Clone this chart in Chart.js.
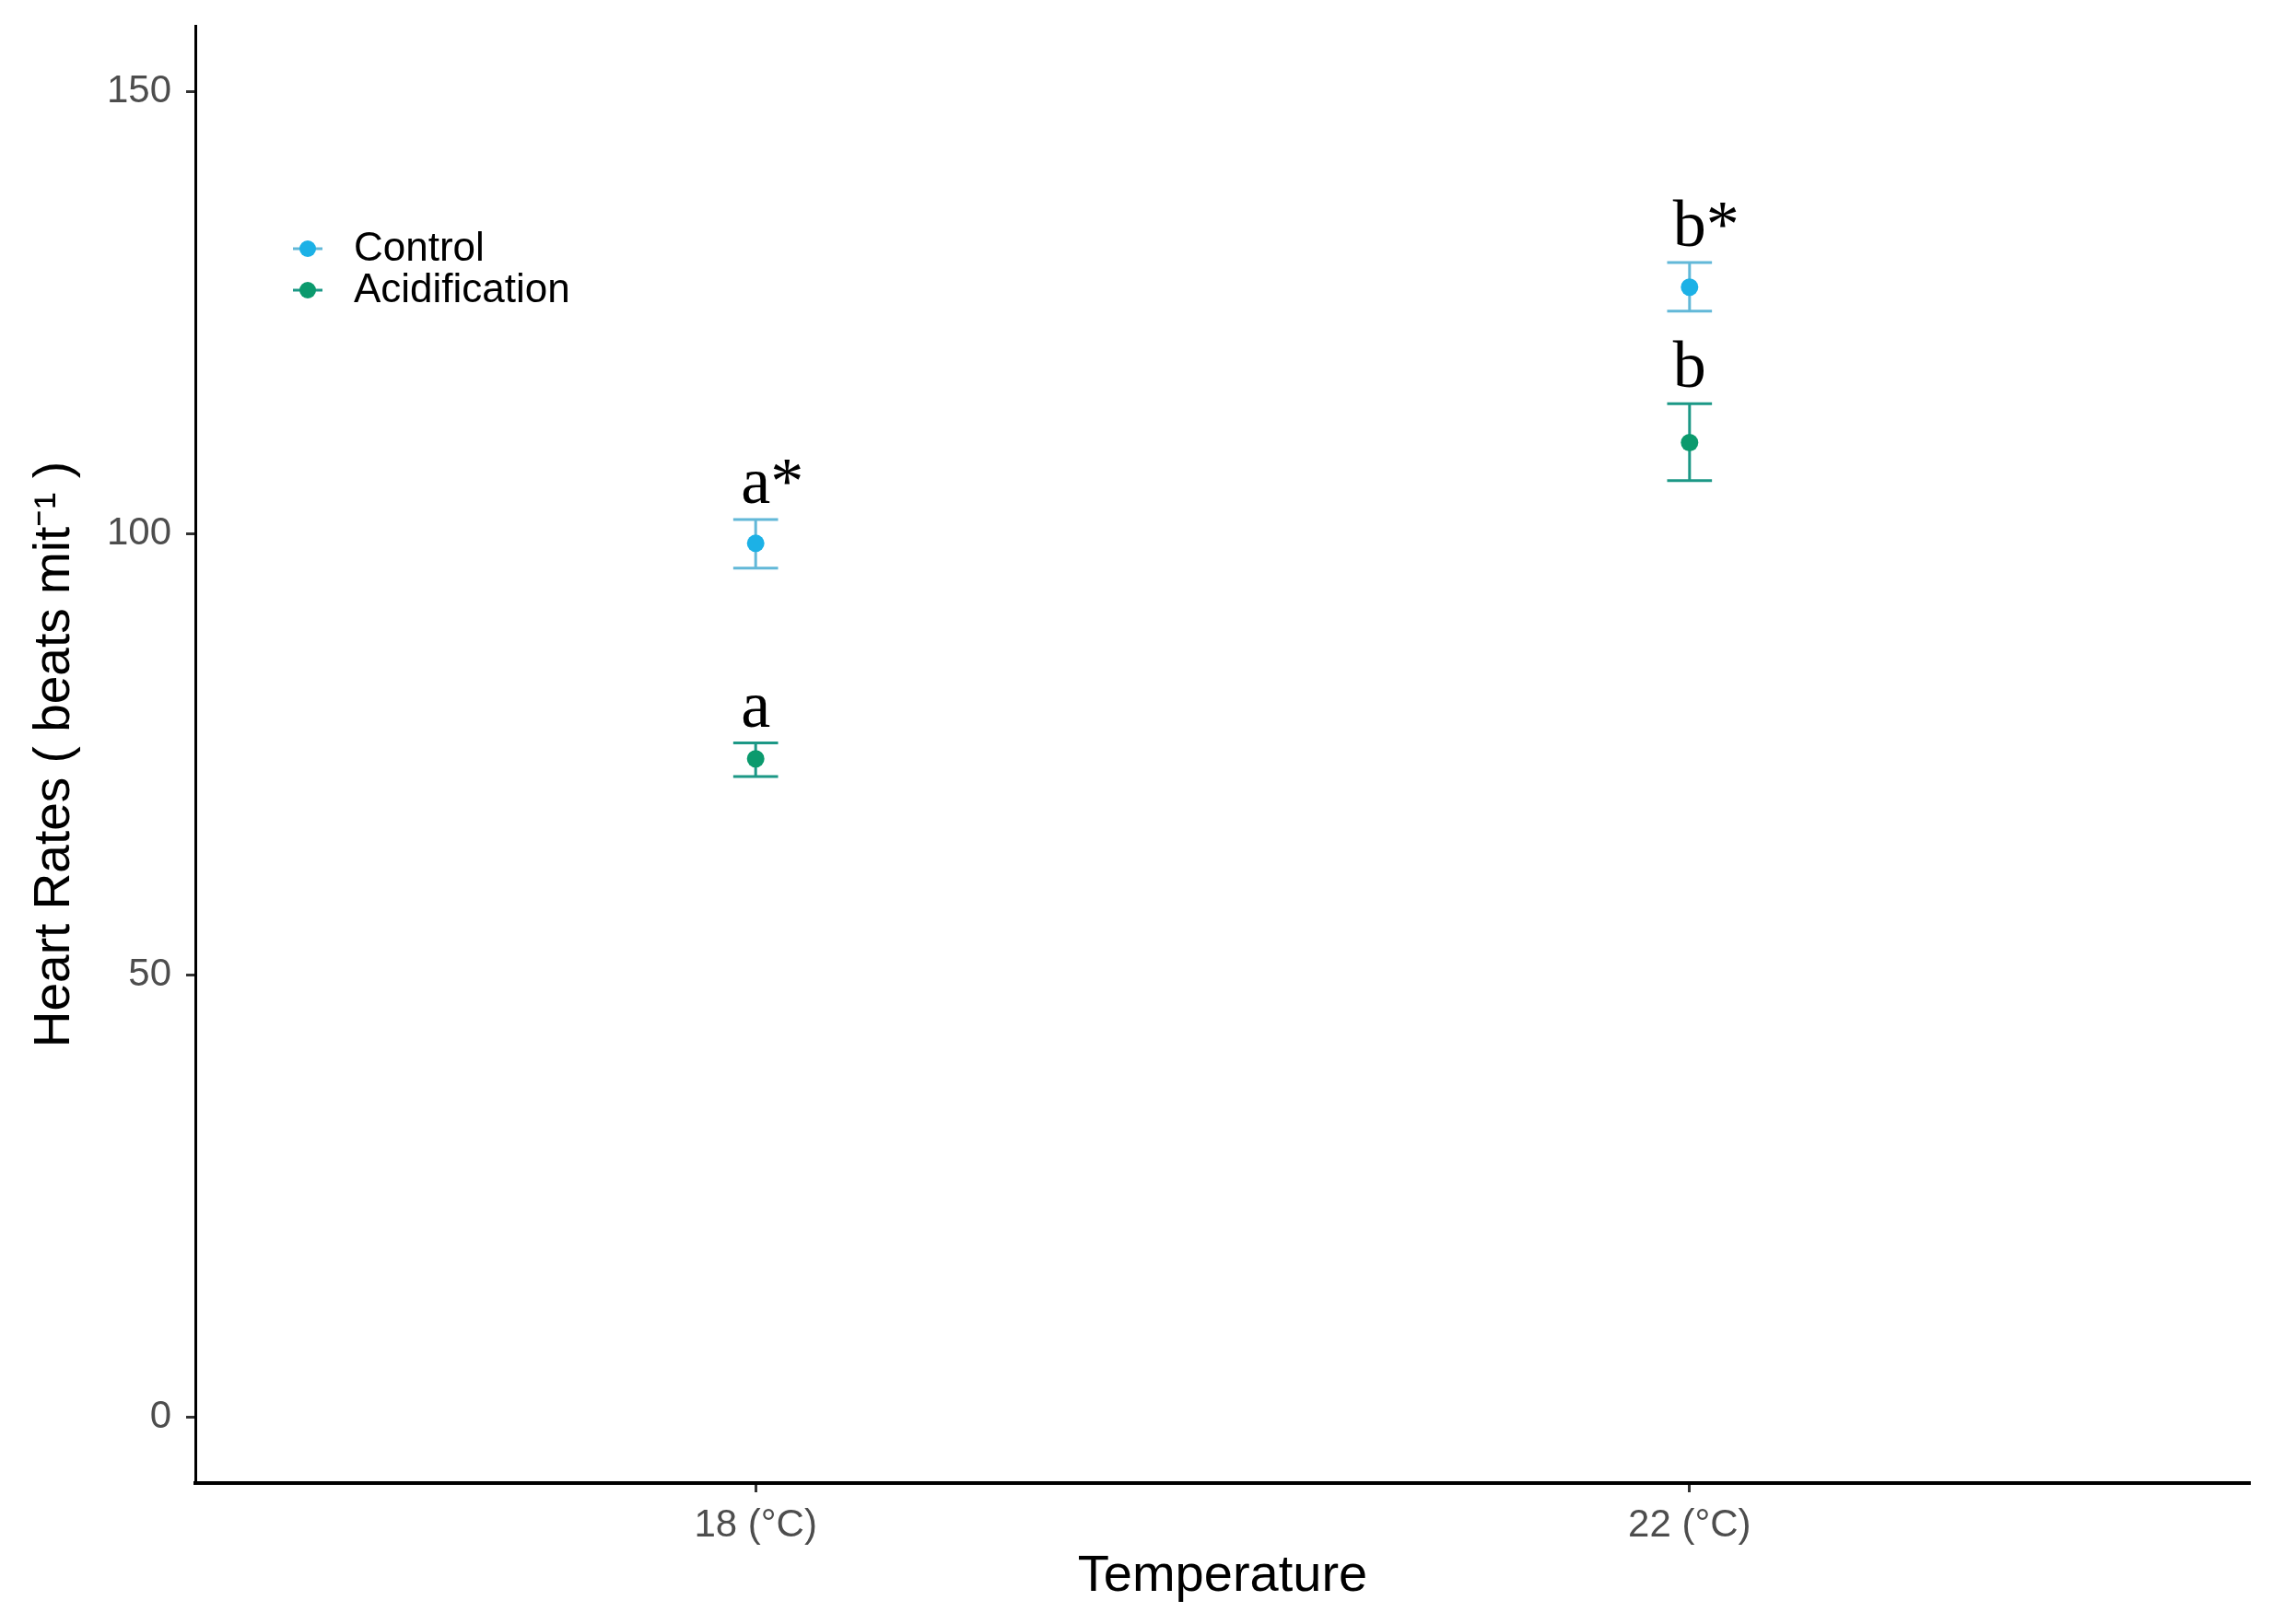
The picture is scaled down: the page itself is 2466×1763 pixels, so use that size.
<!DOCTYPE html>
<html>
<head>
<meta charset="utf-8">
<script src="https://cdn.jsdelivr.net/npm/chart.js@4.4.1/dist/chart.umd.min.js"></script>
<style>
  body { margin: 0; background: #fff; }
  canvas { display: block; }
</style>
</head>
<body>
<canvas id="myChart" width="2466" height="1763"></canvas>
<script>
// categories on the x axis
const categories = ['18 (\u00b0C)', '22 (\u00b0C)'];
const xPositions = [1, 2];

// Control series (mean and error bar ends)
const controlMean = [98.9, 127.9];
const controlLow = [96.1, 125.2];
const controlHigh = [101.6, 130.7];
const controlLetters = ['a*', 'b*'];

// Acidification series
const acidMean = [74.5, 110.3];
const acidLow = [72.5, 106.0];
const acidHigh = [76.3, 114.7];
const acidLetters = ['a', 'b'];

const yTicks = [0, 50, 100, 150];

const series = [
  {label: 'Control', mean: controlMean, low: controlLow, high: controlHigh, letters: controlLetters,
   color: '#1cb1e6', barColor: '#62b8d8'},
  {label: 'Acidification', mean: acidMean, low: acidLow, high: acidHigh, letters: acidLetters,
   color: '#0b9a6d', barColor: '#1c9886'}
];

const capHalf = 0.024;

const errorBars = {
  id: 'errorBars',
  beforeDatasetsDraw(chart) {
    const ctx = chart.ctx;
    const xs = chart.scales.x, ys = chart.scales.y;
    ctx.save();
    ctx.lineWidth = 3;
    series.forEach(s => {
      ctx.strokeStyle = s.barColor;
      xPositions.forEach((xv, i) => {
        const x = xs.getPixelForValue(xv);
        const x0 = xs.getPixelForValue(xv - capHalf);
        const x1 = xs.getPixelForValue(xv + capHalf);
        const yl = ys.getPixelForValue(s.low[i]);
        const yh = ys.getPixelForValue(s.high[i]);
        ctx.beginPath();
        ctx.moveTo(x, yl); ctx.lineTo(x, yh);
        ctx.moveTo(x0, yl); ctx.lineTo(x1, yl);
        ctx.moveTo(x0, yh); ctx.lineTo(x1, yh);
        ctx.stroke();
      });
    });
    ctx.restore();
  },
  afterDatasetsDraw(chart) {
    const ctx = chart.ctx;
    const xs = chart.scales.x, ys = chart.scales.y;
    ctx.save();
    // significance letters
    ctx.font = '72px "Liberation Serif"';
    ctx.fillStyle = '#000';
    ctx.textBaseline = 'alphabetic';
    ctx.textAlign = 'left';
    series.forEach(s => {
      xPositions.forEach((xv, i) => {
        const txt = s.letters[i];
        const letterW = ctx.measureText(txt.charAt(0)).width;
        const x = xs.getPixelForValue(xv) - letterW / 2;
        const y = ys.getPixelForValue(s.high[i]) - 18;
        ctx.fillText(txt, x, y);
      });
    });
    // legend inside plot
    const lx = 334, ly = [270, 315];
    ctx.font = '44px "Liberation Sans"';
    ctx.textBaseline = 'middle';
    series.forEach((s, k) => {
      ctx.strokeStyle = s.barColor;
      ctx.lineWidth = 3;
      ctx.beginPath();
      ctx.moveTo(lx - 16, ly[k]); ctx.lineTo(lx + 16, ly[k]);
      ctx.stroke();
      ctx.fillStyle = s.color;
      ctx.beginPath();
      ctx.arc(lx, ly[k], 9, 0, Math.PI * 2);
      ctx.fill();
      ctx.fillStyle = '#000';
      ctx.fillText(s.label, 384, ly[k] + 1);
    });
    ctx.restore();
  }
};

const ctx = document.getElementById('myChart').getContext('2d');
const chart = new Chart(ctx, {
  type: 'scatter',
  data: {
    datasets: series.map(s => ({
      label: s.label,
      data: xPositions.map((xv, i) => ({x: xv, y: s.mean[i]})),
      backgroundColor: s.color,
      borderColor: s.color,
      pointRadius: 9.5,
      pointBorderWidth: 0
    }))
  },
  options: {
    responsive: false,
    animation: false,
    layout: {padding: {top: 28, right: 24, left: 0, bottom: 0}},
    plugins: {legend: {display: false}, tooltip: {enabled: false}},
    scales: {
      x: {
        type: 'linear',
        min: 0.4,
        max: 2.6,
        afterBuildTicks: scale => { scale.ticks = xPositions.map(v => ({value: v})); },
        afterFit: scale => { scale.height = 153; scale.paddingLeft = 0; scale.paddingRight = 0; },
        ticks: {
          callback: (v) => categories[xPositions.indexOf(v)],
          font: {family: 'Liberation Sans', size: 42},
          color: '#4d4d4d',
          padding: 11,
          maxRotation: 0
        },
        grid: {drawOnChartArea: false, drawTicks: true, tickLength: 10, tickWidth: 3, color: '#333'},
        border: {display: true, color: '#000', width: 4},
        title: {
          display: true, text: 'Temperature', color: '#000',
          font: {family: 'Liberation Sans', size: 56},
          padding: {top: 0, bottom: 18}
        }
      },
      y: {
        min: -7.5,
        max: 157.5,
        afterBuildTicks: scale => { scale.ticks = yTicks.map(v => ({value: v})); },
        afterFit: scale => { scale.width = 212; scale.paddingTop = 0; scale.paddingBottom = 0; },
        ticks: {
          font: {family: 'Liberation Sans', size: 42},
          color: '#4d4d4d',
          padding: 16
        },
        grid: {drawOnChartArea: false, drawTicks: true, tickLength: 10, tickWidth: 3, color: '#333'},
        border: {display: true, color: '#000', width: 3},
        title: {
          display: true, text: 'Heart Rates ( beats mit\u207b\u00b9 )', color: '#000',
          font: {family: 'Liberation Sans', size: 55},
          padding: {top: 27, bottom: 0}
        }
      }
    }
  },
  plugins: [errorBars]
});
</script>
</body>
</html>
